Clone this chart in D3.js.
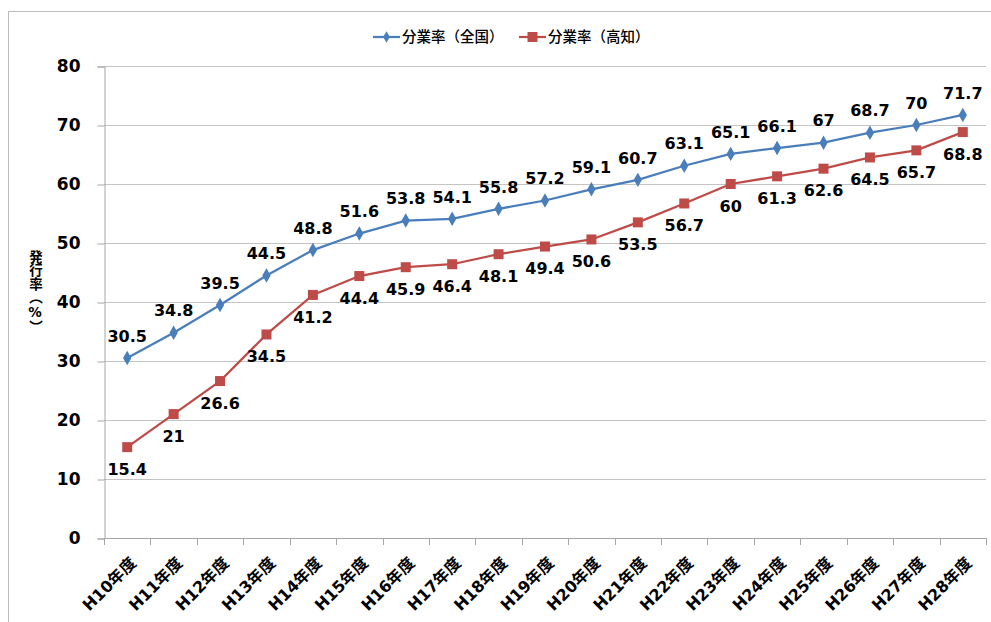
<!DOCTYPE html>
<html>
<head>
<meta charset="utf-8">
<script src="https://cdn.jsdelivr.net/npm/d3@7"></script>
<style>
    body { margin: 0; background: #fff; }
    svg { display: block; }
    text { font-family: "DejaVu Sans", "Noto Sans CJK JP", sans-serif; }
</style>
</head>
<body>
<svg id="chart" width="991" height="622"></svg>
<script>
var categories = ['H10年度', 'H11年度', 'H12年度', 'H13年度', 'H14年度', 'H15年度', 'H16年度',
    'H17年度', 'H18年度', 'H19年度', 'H20年度', 'H21年度', 'H22年度', 'H23年度', 'H24年度',
    'H25年度', 'H26年度', 'H27年度', 'H28年度'];
var nationalRates = [30.5, 34.8, 39.5, 44.5, 48.8, 51.6, 53.8, 54.1, 55.8, 57.2, 59.1, 60.7,
    63.1, 65.1, 66.1, 67, 68.7, 70, 71.7];
var kochiRates = [15.4, 21, 26.6, 34.5, 41.2, 44.4, 45.9, 46.4, 48.1, 49.4, 50.6, 53.5,
    56.7, 60, 61.3, 62.6, 64.5, 65.7, 68.8];
var yTicks = [0, 10, 20, 30, 40, 50, 60, 70, 80];
var seriesNames = ['分業率（全国）', '分業率（高知）'];
var yTitle = '発行率（%）';

var blue = '#4a7ebb',
    red = '#be4b48',
    gridColor = '#c4c4c4';

var plot = {left: 104, right: 986, top: 66, bottom: 538};

var svg = d3.select('#chart');

// outer frame of the chart area
svg.append('rect')
    .attr('x', 8.5).attr('y', 11.5)
    .attr('width', 1000).attr('height', 700)
    .attr('fill', 'none')
    .attr('stroke', '#bdbdbd');

var x = d3.scaleBand().domain(categories).range([plot.left, plot.right]);
var y = d3.scaleLinear().domain([0, 80]).range([plot.bottom, plot.top]);

function cx(d, i) {
    return x(categories[i]) + x.bandwidth() / 2;
}

// gridlines
svg.append('g').selectAll('line').data(yTicks.slice(1)).enter()
    .append('line')
        .attr('x1', plot.left).attr('x2', plot.right)
        .attr('y1', function(d) { return Math.round(y(d)) + 0.5; })
        .attr('y2', function(d) { return Math.round(y(d)) + 0.5; })
        .attr('stroke', gridColor);

// y axis
var yAxis = svg.append('g')
    .attr('transform', 'translate(' + (plot.left + 0.5) + ',0.5)')
    .call(d3.axisLeft(y).tickValues(yTicks).tickSize(7).tickPadding(17));
yAxis.select('.domain').attr('stroke', '#a6a6a6');
yAxis.selectAll('.tick line').attr('stroke', '#a6a6a6');
yAxis.selectAll('text')
    .attr('font-size', 17).attr('font-weight', 'bold').attr('fill', '#000')
    .attr('font-family', '"DejaVu Sans", sans-serif');

// x axis: ticks at category boundaries
var boundaries = categories.map(function(c) { return x(c); }).concat([plot.right]);
var xAxis = svg.append('g');
xAxis.append('line')
    .attr('x1', plot.left).attr('x2', plot.right)
    .attr('y1', plot.bottom + 0.5).attr('y2', plot.bottom + 0.5)
    .attr('stroke', '#a6a6a6');
xAxis.selectAll('.bt').data(boundaries).enter()
    .append('line')
        .attr('x1', function(d) { return Math.round(d) + 0.5; })
        .attr('x2', function(d) { return Math.round(d) + 0.5; })
        .attr('y1', plot.bottom).attr('y2', plot.bottom + 7)
        .attr('stroke', '#a6a6a6');
xAxis.selectAll('text').data(categories).enter()
    .append('text')
        .attr('transform', function(d, i) {
            return 'translate(' + (cx(d, i) + 10) + ',' + (plot.bottom + 26) + ') rotate(-45)';
        })
        .attr('text-anchor', 'end')
        .attr('font-size', 16).attr('font-weight', 'bold')
        .text(function(d) { return d; });

// y axis title, vertical writing
svg.append('text')
    .attr('x', 35)
    .attr('y', 250)
    .style('writing-mode', 'vertical-rl')
    .style('text-orientation', 'upright')
    .attr('font-family', '"Noto Sans CJK JP", sans-serif')
    .attr('font-size', 13.5).attr('font-weight', 'bold')
    .text(yTitle);

function drawSeries(values, color, marker, labelDy) {
    var g = svg.append('g');
    var line = d3.line()
        .x(function(d, i) { return cx(d, i); })
        .y(function(d) { return y(d); });

    g.append('path')
        .attr('d', line(values))
        .attr('fill', 'none')
        .attr('stroke', color)
        .attr('stroke-width', 2.25);

    g.selectAll('path.m').data(values).enter()
        .append('path')
            .attr('class', 'm')
            .attr('transform', function(d, i) { return 'translate(' + cx(d, i) + ',' + y(d) + ')'; })
            .attr('d', marker)
            .attr('fill', color);

    g.selectAll('text').data(values).enter()
        .append('text')
            .attr('x', cx)
            .attr('y', function(d) { return y(d) + labelDy; })
            .attr('text-anchor', 'middle')
            .attr('dy', '0.36em')
            .attr('font-size', 16).attr('font-weight', 'bold')
            .attr('fill', '#000')
            .text(function(d) { return d; });
}

var diamond = d3.symbol().type(d3.symbolDiamond).size(60)();
var square = 'M-5,-5H5V5H-5Z';

drawSeries(nationalRates, blue, diamond, -22);
drawSeries(kochiRates, red, square, 22);

// legend
var legend = svg.append('g').attr('transform', 'translate(0,37)');
var legendItems = [
    {name: seriesNames[0], color: blue, marker: diamond, x: 373},
    {name: seriesNames[1], color: red, marker: square, x: 519}
];
legendItems.forEach(function(item) {
    legend.append('line')
        .attr('x1', item.x).attr('x2', item.x + 27)
        .attr('y1', 0).attr('y2', 0)
        .attr('stroke', item.color).attr('stroke-width', 2.25);
    legend.append('path')
        .attr('transform', 'translate(' + (item.x + 13.5) + ',0)' + (item.marker === diamond ? ' scale(0.8)' : ''))
        .attr('d', item.marker)
        .attr('fill', item.color);
    legend.append('text')
        .attr('x', item.x + 29)
        .attr('dy', '0.35em')
        .attr('font-family', '"Noto Sans CJK JP", sans-serif')
        .attr('font-size', 14.5)
        .attr('font-weight', 500)
        .text(item.name);
});
</script>
</body>
</html>
